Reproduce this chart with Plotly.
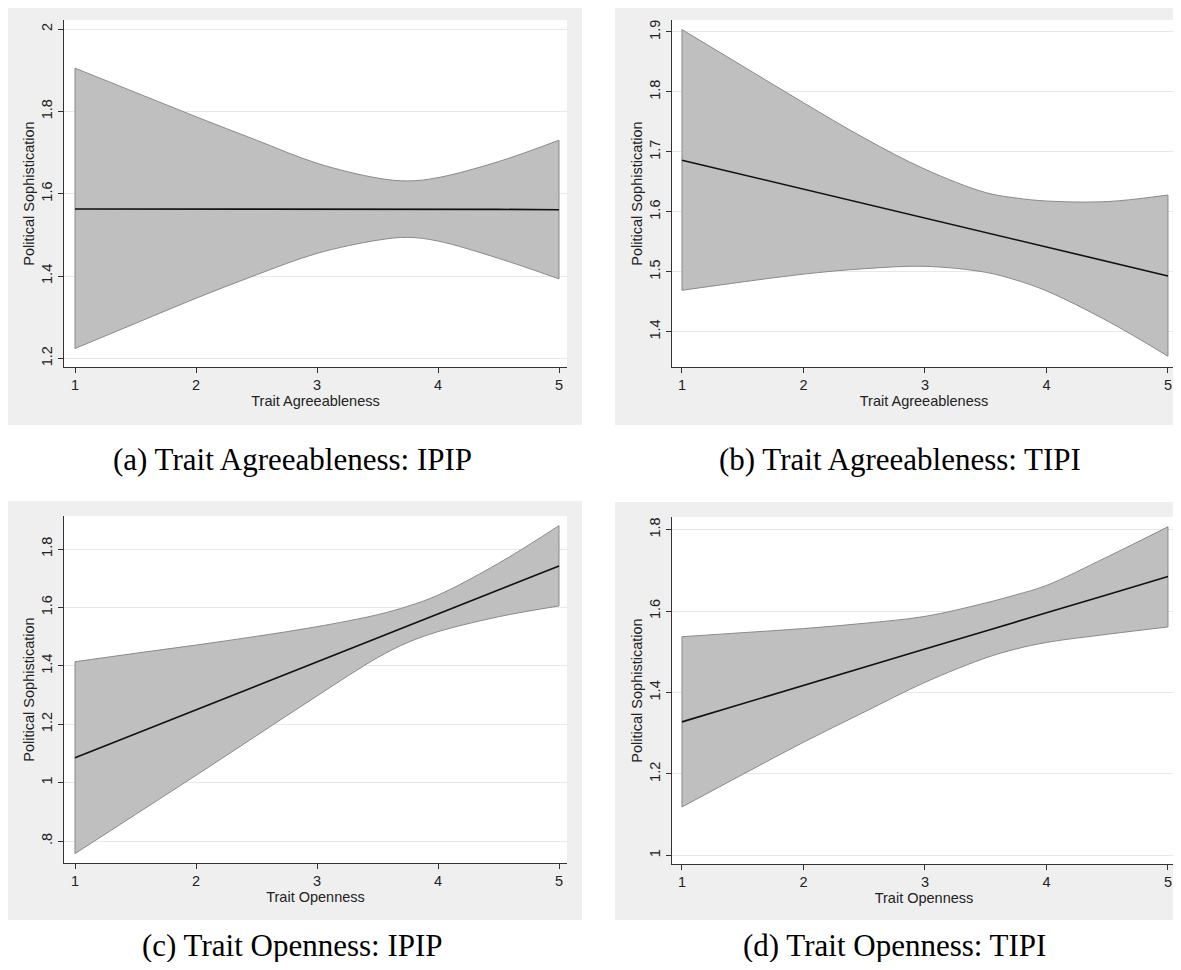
import plotly.graph_objects as go

# The page body has an 8px margin; the figure is sized so it fills the rest of the window.
OFF = 8
W, H = 1181 - OFF, 970 - 2 * OFF

# ---------------- data ----------------
x_pts = [1, 1.5, 2, 2.5, 3, 3.5, 3.75, 4, 4.5, 5]

# (a) Agreeableness IPIP
a_upper = [1.905, 1.846, 1.787, 1.730, 1.674, 1.638, 1.631, 1.639, 1.678, 1.730]
a_lower = [1.224, 1.285, 1.346, 1.403, 1.455, 1.487, 1.494, 1.485, 1.443, 1.393]
a_mean = [1.563, 1.563, 1.563, 1.563, 1.562, 1.562, 1.562, 1.562, 1.562, 1.561]

# (b) Agreeableness TIPI
b_upper = [1.904, 1.843, 1.782, 1.723, 1.671, 1.632, 1.623, 1.618, 1.617, 1.628]
b_lower = [1.469, 1.483, 1.496, 1.505, 1.509, 1.499, 1.486, 1.468, 1.418, 1.359]
b_mean = [1.686, 1.662, 1.638, 1.614, 1.590, 1.566, 1.554, 1.541, 1.517, 1.493]

# (c) Openness IPIP
c_upper = [1.414, 1.443, 1.471, 1.501, 1.534, 1.575, 1.604, 1.642, 1.751, 1.880]
c_lower = [0.757, 0.891, 1.025, 1.161, 1.297, 1.428, 1.480, 1.517, 1.568, 1.605]
c_mean = [1.085, 1.167, 1.249, 1.331, 1.414, 1.496, 1.537, 1.578, 1.660, 1.742]

# (d) Openness TIPI
d_upper = [1.537, 1.547, 1.557, 1.570, 1.587, 1.620, 1.640, 1.663, 1.733, 1.807]
d_lower = [1.119, 1.199, 1.278, 1.352, 1.425, 1.485, 1.507, 1.523, 1.543, 1.561]
d_mean = [1.328, 1.373, 1.417, 1.462, 1.507, 1.551, 1.574, 1.596, 1.640, 1.685]

x_ticks = [1, 2, 3, 4, 5]
a_yticks = [1.2, 1.4, 1.6, 1.8, 2.0]
a_ytext = ["1.2", "1.4", "1.6", "1.8", "2"]
b_yticks = [1.4, 1.5, 1.6, 1.7, 1.8, 1.9]
b_ytext = ["1.4", "1.5", "1.6", "1.7", "1.8", "1.9"]
c_yticks = [0.8, 1.0, 1.2, 1.4, 1.6, 1.8]
c_ytext = [".8", "1", "1.2", "1.4", "1.6", "1.8"]
d_yticks = [1.0, 1.2, 1.4, 1.6, 1.8]
d_ytext = ["1", "1.2", "1.4", "1.6", "1.8"]

x_titles = ["Trait Agreeableness", "Trait Agreeableness", "Trait Openness", "Trait Openness"]
y_title = "Political Sophistication"
captions = ["(a) Trait Agreeableness: IPIP", "(b) Trait Agreeableness: TIPI",
            "(c) Trait Openness: IPIP", "(d) Trait Openness: TIPI"]

# ---------------- layout geometry (window pixels) ----------------
def px_x(v):
    return min(max((v - OFF) / W, 0.0), 1.0)

def px_y(v):
    return min(max(1 - (v - OFF) / H, 0.0), 1.0)

panels = [
    dict(upper=a_upper, lower=a_lower, mean=a_mean, yt=a_yticks, ytt=a_ytext,
         xr=[0.909, 5.066], yr=[1.179, 2.022],
         plot=(64, 567, 20, 367), bg=(7, 582, 5, 425), cap=(292, 459)),
    dict(upper=b_upper, lower=b_lower, mean=b_mean, yt=b_yticks, ytt=b_ytext,
         xr=[0.918, 5.066], yr=[1.341, 1.920],
         plot=(672, 1176, 20, 367), bg=(615, 1181, 5, 425), cap=(900, 459)),
    dict(upper=c_upper, lower=c_lower, mean=c_mean, yt=c_yticks, ytt=c_ytext,
         xr=[0.909, 5.066], yr=[0.725, 1.913],
         plot=(64, 567, 516, 863), bg=(7, 582, 501, 920), cap=(292, 945)),
    dict(upper=d_upper, lower=d_lower, mean=d_mean, yt=d_yticks, ytt=d_ytext,
         xr=[0.918, 5.066], yr=[0.979, 1.831],
         plot=(672, 1176, 517, 864), bg=(615, 1181, 502, 920), cap=(895, 945)),
]

fig = go.Figure()
shapes = []
annotations = []
band_fill = "#bfbfbf"
band_edge = "#8a8a8a"
axis_font = dict(family="Liberation Sans, Arial", size=14.5, color="#222222")

for i, p in enumerate(panels):
    n = "" if i == 0 else str(i + 1)
    xa, ya = "x" + n, "y" + n
    fig.add_trace(go.Scatter(x=x_pts, y=p["upper"], mode="lines",
                             line=dict(color=band_edge, width=1, shape="spline", smoothing=1.0),
                             xaxis=xa, yaxis=ya, showlegend=False, hoverinfo="skip"))
    fig.add_trace(go.Scatter(x=x_pts, y=p["lower"], mode="lines", fill="tonexty",
                             fillcolor=band_fill,
                             line=dict(color=band_edge, width=1, shape="spline", smoothing=1.0),
                             xaxis=xa, yaxis=ya, showlegend=False, hoverinfo="skip"))
    for k in (0, -1):
        fig.add_trace(go.Scatter(x=[x_pts[k], x_pts[k]], y=[p["upper"][k], p["lower"][k]],
                                 mode="lines", line=dict(color=band_edge, width=1),
                                 xaxis=xa, yaxis=ya, showlegend=False, hoverinfo="skip"))
    fig.add_trace(go.Scatter(x=x_pts, y=p["mean"], mode="lines",
                             line=dict(color="#111111", width=1.6),
                             xaxis=xa, yaxis=ya, showlegend=False, hoverinfo="skip"))

    x0, x1, y0, y1 = p["plot"]
    bx0, bx1, by0, by1 = p["bg"]
    shapes.append(dict(type="rect", xref="paper", yref="paper", layer="below",
                       x0=px_x(bx0), x1=px_x(bx1), y0=px_y(by1), y1=px_y(by0),
                       fillcolor="#efefef", line=dict(width=0)))
    shapes.append(dict(type="rect", xref="paper", yref="paper", layer="below",
                       x0=px_x(x0), x1=px_x(x1), y0=px_y(y1), y1=px_y(y0),
                       fillcolor="#ffffff", line=dict(width=0)))

    fig.update_layout(**{
        ("xaxis" + n): dict(domain=[px_x(x0), px_x(x1)], range=p["xr"], anchor=ya,
                            tickvals=x_ticks, ticktext=[str(t) for t in x_ticks],
                            ticks="outside", ticklen=5, tickcolor="#333333",
                            showline=True, linecolor="#333333", linewidth=1,
                            showgrid=False, zeroline=False, tickfont=axis_font,
                            title=dict(text=x_titles[i], font=axis_font, standoff=0),
                            automargin=False, fixedrange=True),
        ("yaxis" + n): dict(domain=[px_y(y1), px_y(y0)], range=p["yr"], anchor=xa,
                            tickvals=p["yt"], ticktext=p["ytt"], tickangle=-90,
                            ticks="outside", ticklen=5, tickcolor="#333333",
                            showline=True, linecolor="#333333", linewidth=1,
                            showgrid=True, gridcolor="#e8e8e8", gridwidth=1,
                            zeroline=False, tickfont=axis_font,
                            title=dict(text=y_title, font=axis_font, standoff=1),
                            automargin=False, fixedrange=True),
    })

    cx, cy = p["cap"]
    annotations.append(dict(text=captions[i], xref="paper", yref="paper",
                            x=px_x(cx), y=px_y(cy), xanchor="center", yanchor="middle",
                            showarrow=False,
                            font=dict(family="Liberation Serif, Times New Roman", size=31,
                                      color="#000000")))

fig.update_layout(width=W, height=H, margin=dict(l=0, r=0, t=0, b=0),
                  paper_bgcolor="#ffffff", plot_bgcolor="rgba(0,0,0,0)",
                  shapes=shapes, annotations=annotations, showlegend=False)

fig.write_html("out.html")
